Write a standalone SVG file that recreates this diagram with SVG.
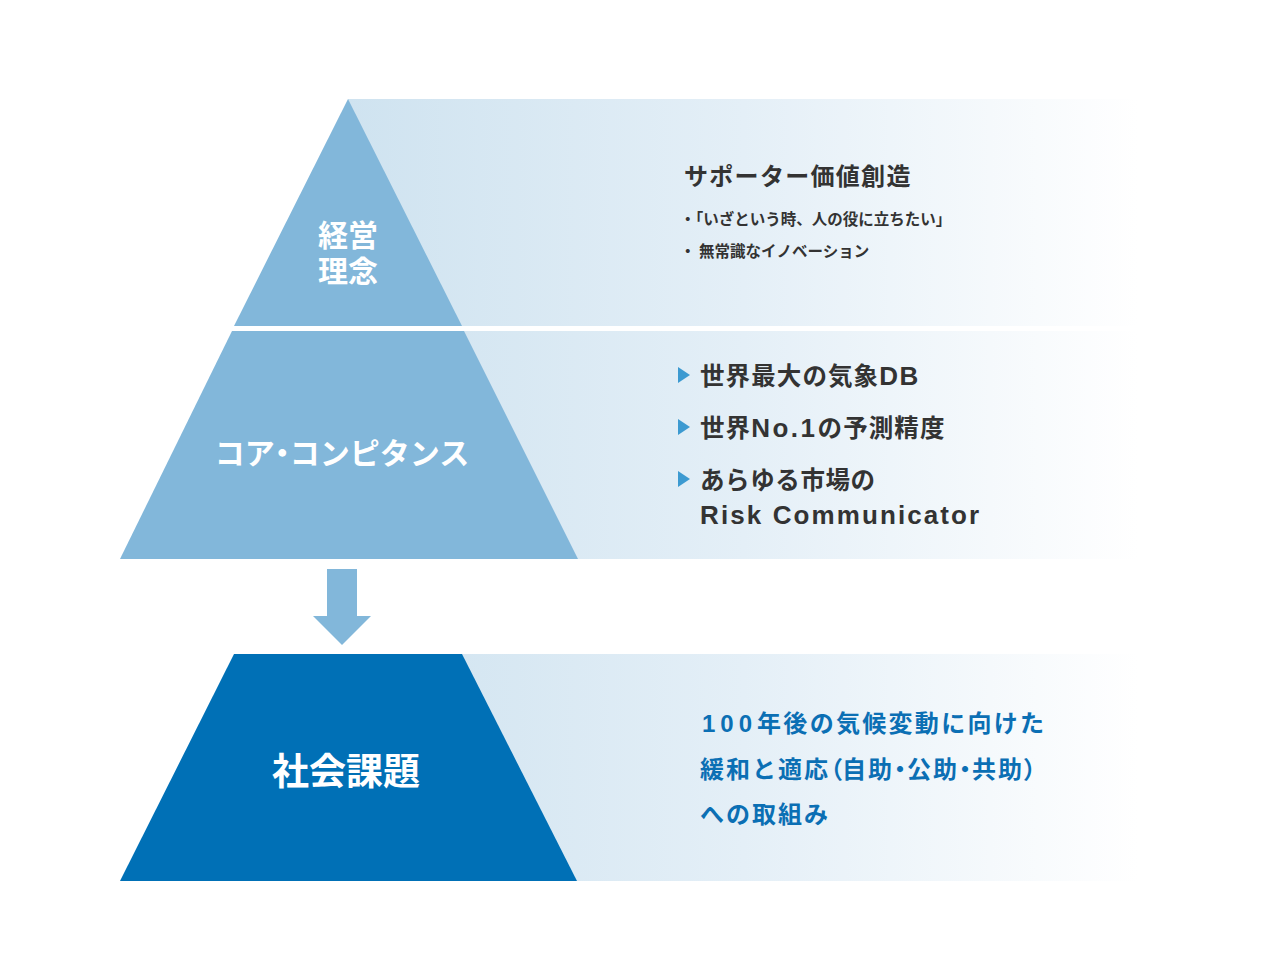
<svg xmlns="http://www.w3.org/2000/svg" width="1280" height="961" viewBox="0 0 1280 961">
<defs>
<linearGradient id="band" x1="0" y1="0" x2="1" y2="0">
<stop offset="0" stop-color="#cfe3f0"/>
<stop offset="0.5" stop-color="#e4eff7"/>
<stop offset="1" stop-color="#ffffff"/>
</linearGradient>
<style>
.jp{font-family:"Noto Sans CJK JP","Noto Sans",sans-serif;font-weight:bold}
.lat{font-family:"Liberation Sans","Noto Sans CJK JP",sans-serif;font-weight:bold}
.p{font-feature-settings:"palt"}
.w{fill:#ffffff}
.d{fill:#333333}
.b{fill:#0b6fb4}
.lt{fill:#82b7da}
.bul{fill:#3c9ad1}
</style>
</defs>
<rect width="1280" height="961" fill="#ffffff"/>
<g id="bands">
<rect x="348" y="99" width="790" height="227" fill="url(#band)"/>
<rect x="348" y="331" width="790" height="228" fill="url(#band)"/>
<rect x="348" y="654" width="790" height="227" fill="url(#band)"/>
</g>
<g id="node-keiei">
<polygon class="lt" points="348,99 462,326 234,326"/>
<text class="jp w" font-size="30" text-anchor="middle"><tspan x="348" y="246">経営</tspan><tspan x="348" y="282">理念</tspan></text>
</g>
<g id="node-core">
<polygon class="lt" points="232,331 464,331 578,559 120,559"/>
<text class="jp w" x="342" y="464" font-size="30" text-anchor="middle">コア<tspan class="p">・</tspan>コンピタンス</text>
</g>
<g id="node-social">
<polygon fill="#0070b6" points="234,654 462,654 577,881 120,881"/>
<text class="jp w" x="346" y="785" font-size="37" text-anchor="middle">社会課題</text>
</g>
<g id="connectors">
<polygon class="lt" points="327,569 357,569 357,616 371,616 342,645 313,616 327,616"/>
</g>
<g id="text-top">
<text class="jp d" x="684" y="185" font-size="24" letter-spacing="1.3">サポーター価値創造</text>
<text class="jp d" x="680" y="225" font-size="15.5">・「いざという時、人の役に立ちたい」</text>
<text class="jp d" x="680" y="257" font-size="15.5">・ 無常識なイノベーション</text>
</g>
<g id="text-core">
<polygon class="bul" points="678,367 690,375 678,383"/>
<text class="jp d" x="700" y="385" font-size="24.5" letter-spacing="1.1">世界最大の気象<tspan class="lat" font-size="26" letter-spacing="1.5">DB</tspan></text>
<polygon class="bul" points="678,419 690,427 678,435"/>
<text class="jp d" x="700" y="437" font-size="24.5" letter-spacing="1.1">世界<tspan class="lat" font-size="26" letter-spacing="2.5">No.1</tspan>の予測精度</text>
<polygon class="bul" points="678,471 690,479 678,487"/>
<text class="jp d" x="700" y="489" font-size="24.5" letter-spacing="0.6">あらゆる市場の</text>
<text class="lat d" x="700" y="524" font-size="26" letter-spacing="2.1">Risk Communicator</text>
</g>
<g id="text-social">
<text class="jp b" x="702" y="732" font-size="24" letter-spacing="2.3"><tspan class="lat" letter-spacing="5">100</tspan>年後の気候変動に向けた</text>
<text class="jp b" x="700" y="778" font-size="24" letter-spacing="2">緩和と適応<tspan class="p" letter-spacing="0">（</tspan>自助<tspan class="p" letter-spacing="1">・</tspan>公助<tspan class="p" letter-spacing="1">・</tspan>共助<tspan class="p">）</tspan></text>
<text class="jp b" x="700" y="823" font-size="24" letter-spacing="2">への取組み</text>
</g>
</svg>
